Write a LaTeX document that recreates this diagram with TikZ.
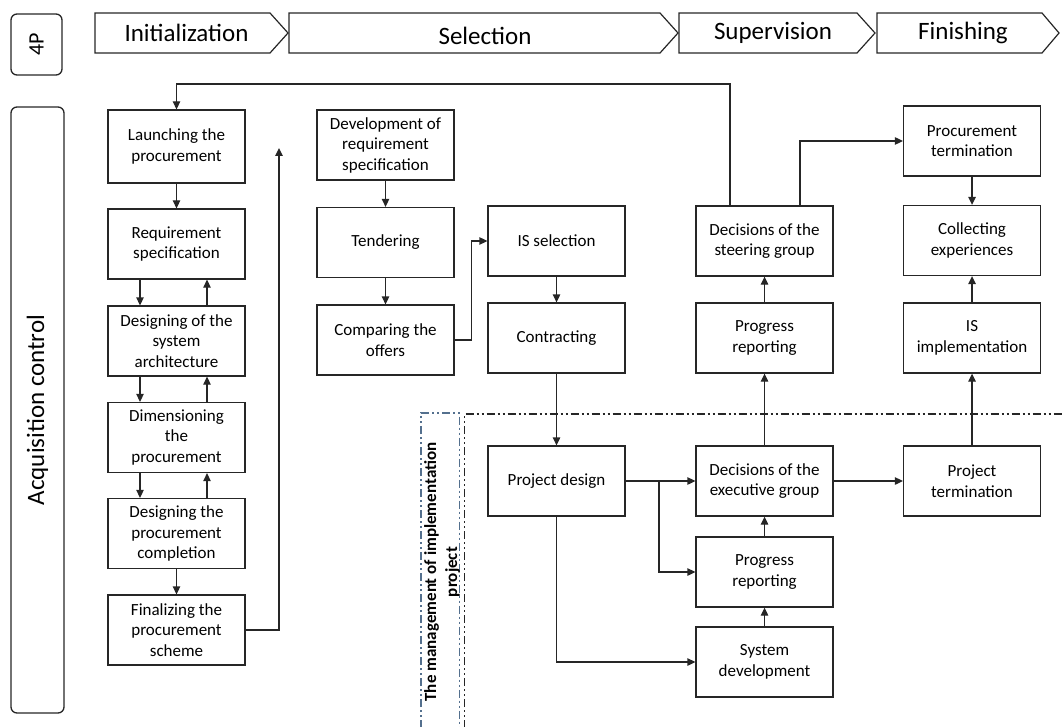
\documentclass[tikz,border=0pt]{standalone}
\usepackage{fontspec}
\setmainfont{Carlito}
\usetikzlibrary{arrows.meta}
\definecolor{frameblue}{RGB}{84,112,142}
\definecolor{ink}{RGB}{38,38,38}
\tikzset{
  box/.style={draw=ink, line width=1.3pt, minimum width=137pt, minimum height=70pt,
    align=center, inner sep=2pt, font=\fontsize{17}{20.5}\selectfont},
  arr/.style={draw=ink, line width=1.3pt, -{Triangle[length=8pt,width=7.5pt]}},
  phase/.style={draw=ink, line width=1.2pt},
  phasetext/.style={font=\fontsize{25}{30}\selectfont, inner sep=0pt},
  lane/.style={draw=ink, line width=1.3pt, rounded corners=6pt},
  ddot/.style={line width=1.6pt, dash pattern=on 8pt off 3pt on 2pt off 3pt on 2pt off 3pt}
}
\begin{document}
\begin{tikzpicture}[x=1pt,y=-1pt]
\useasboundingbox (0,0) rectangle (1062,727);

% phase banner
\draw[phase] (95,13) -- (270,13) -- (288,33) -- (270,53) -- (95,53) -- cycle;
\draw[phase] (289,13) -- (660,13) -- (678,33) -- (660,53) -- (289,53) -- cycle;
\draw[phase] (679,13) -- (857,13) -- (875,33) -- (857,53) -- (679,53) -- cycle;
\draw[phase] (877,13) -- (1042,13) -- (1059,33) -- (1042,53) -- (877,53) -- cycle;
\node[phasetext] (ph1) at (186.5,33) {Initialization};
\node[phasetext] (ph2) at (485,36) {Selection};
\node[phasetext] (ph3) at (773,33) {Supervision};
\node[phasetext] (ph4) at (963,33) {Finishing};

% lane labels
\draw[lane] (11,14) rectangle (62,75);
\node[rotate=90, font=\fontsize{22}{26}\selectfont] (fourp) at (36.5,44.5) {4P};
\draw[lane] (11,107) rectangle (64,713);
\node[rotate=90, font=\fontsize{25}{30}\selectfont] (acq) at (37.5,410) {Acquisition control};

% implementation project area
\draw[ddot, draw=frameblue] (421,728) -- (421,413) -- (459.5,413) -- (459.5,728);
\draw[ddot, draw=ink] (464.5,728) -- (464.5,414) -- (1063,414);
\node[rotate=90, align=center, font=\bfseries\fontsize{17}{21}\selectfont] (mgmt) at (442,572)
  {The management of implementation\\project};

% initialization column
\node[box, minimum height=73pt] (L1) at (176.5,146.5) {Launching the\\procurement};
\node[box] (L2) at (176.5,244) {Requirement\\specification};
\node[box] (L3) at (176.5,341) {Designing of the\\system\\architecture};
\node[box] (L4) at (176.5,437.5) {Dimensioning\\the\\procurement};
\node[box] (L5) at (176.5,533.5) {Designing the\\procurement\\completion};
\node[box] (L6) at (176.5,630) {Finalizing the\\procurement\\scheme};

% selection column
\node[box] (M1) at (385.5,145) {Development of\\requirement\\specification};
\node[box] (M2) at (385.5,242.5) {Tendering};
\node[box] (M3) at (385.5,340) {Comparing the\\offers};
\node[box] (S1) at (556.5,241) {IS selection};
\node[box] (S2) at (556.5,338) {Contracting};
\node[box] (P1) at (556.5,481) {Project design};

% supervision column
\node[box] (R1) at (764.5,241) {Decisions of the\\steering group};
\node[box] (R2) at (764.5,338) {Progress\\reporting};
\node[box] (R3) at (764.5,481) {Decisions of the\\executive group};
\node[box] (R4) at (764.5,572) {Progress\\reporting};
\node[box] (R5) at (764.5,662) {System\\development};

% finishing column
\node[box] (F1) at (972,141) {Procurement\\termination};
\node[box] (F2) at (972,240.5) {Collecting\\experiences};
\node[box] (F3) at (972,338) {IS\\implementation};
\node[box] (F4) at (972,481) {Project\\termination};

% connectors: initialization
\draw[arr] (L1) -- (L2);
\foreach \a/\b in {L2/L3, L3/L4, L4/L5}{
  \draw[arr] ([xshift=-36.5pt]\a.south) -- ([xshift=-36.5pt]\b.north);
  \draw[arr] ([xshift=30.5pt]\b.north) -- ([xshift=30.5pt]\a.south);
}
\draw[arr] (L5) -- (L6);
\coordinate (finTop) at (279,148);
\draw[arr] (L6.east) -| (finTop);

% connectors: selection
\draw[arr] (M1) -- (M2);
\draw[arr] (M2) -- (M3);
\draw[arr] (M3.east) -- ++(17,0) |- (S1.west);
\draw[arr] (S1) -- (S2);
\draw[arr] (S2) -- (P1);

% connectors: project and supervision
\draw[arr] (P1) -- (R3);
\coordinate (branch) at (659,481);
\draw[arr] (branch) |- (R4.west);
\draw[arr] (P1.south) |- (R5.west);
\draw[arr] (R5) -- (R4);
\draw[arr] (R4) -- (R3);
\draw[arr] (R3) -- (R2);
\draw[arr] (R2) -- (R1);
\coordinate (loopTop) at (730,84);
\draw[arr] (R1.north -| loopTop) -- (loopTop) -| (L1.north);
\draw[arr] ([xshift=35.5pt]R1.north) |- (F1.west);

% connectors: finishing
\draw[arr] (R3) -- (F4);
\draw[arr] (F4) -- (F3);
\draw[arr] (F3) -- (F2);
\draw[arr] (F1) -- (F2);
\end{tikzpicture}
\end{document}
